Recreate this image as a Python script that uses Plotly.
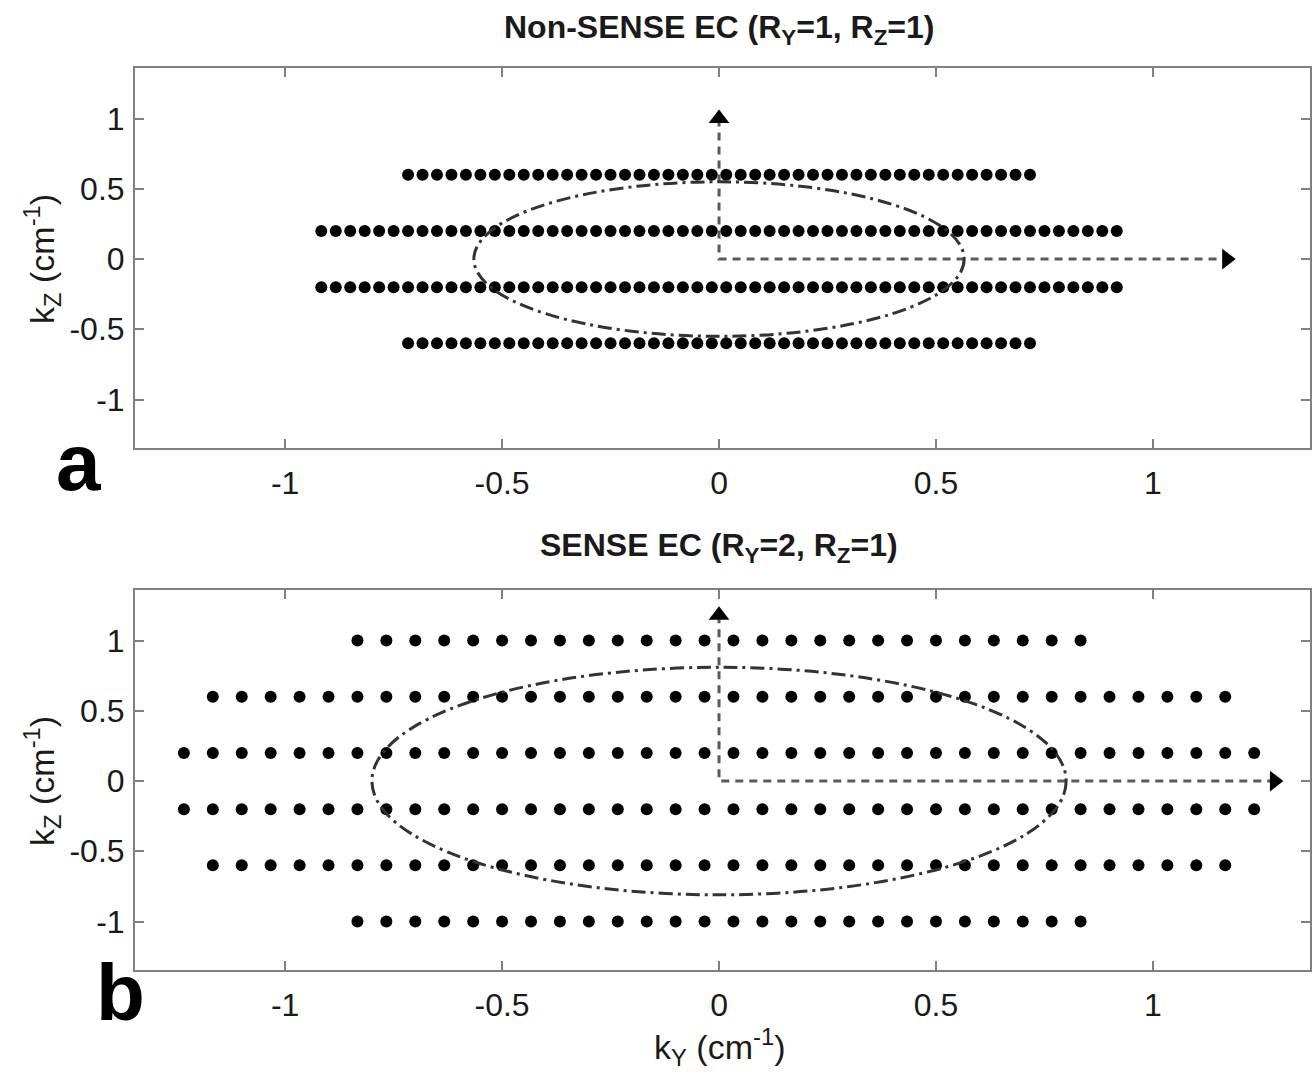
import plotly.graph_objects as go

# ---------------- data ----------------
# Panel a: non-SENSE elliptical-centric sampling (R_Y=1, R_Z=1)
a_row_kz = [0.6, 0.2, -0.2, -0.6]
a_row_count = [44, 56, 56, 44]
a_dky = 1 / 30

# Panel b: SENSE elliptical-centric sampling (R_Y=2, R_Z=1)
b_row_kz = [1.0, 0.6, 0.2, -0.2, -0.6, -1.0]
b_row_count = [26, 36, 38, 38, 36, 26]
b_dky = 1 / 15

# ellipse semi-axes (ky, kz)
a_ellipse = [0.565, 0.55]
b_ellipse = [0.80, 0.81]

# arrow tips (ky end, kz end)
a_arrow = [1.17, 1.0]
b_arrow = [1.28, 1.18]

tick_vals = [-1, -0.5, 0, 0.5, 1]
tick_text = ["-1", "-0.5", "0", "0.5", "1"]

titles = ["<b>Non-SENSE EC (R<sub>Y</sub>=1, R<sub>Z</sub>=1)</b>",
          "<b>SENSE EC (R<sub>Y</sub>=2, R<sub>Z</sub>=1)</b>"]
panel_letters = ["a", "b"]


def grid(rows, counts, d):
    xs, ys = [], []
    for kz, n in zip(rows, counts):
        for k in range(n):
            xs.append((k - n / 2 + 0.5) * d)
            ys.append(kz)
    return xs, ys


FONT = "Liberation Sans, Arial, sans-serif"
W, H = 1315, 1084

fig = go.Figure()

panels = [
    (a_row_kz, a_row_count, a_dky, a_ellipse, a_arrow, "x", "y", 12),
    (b_row_kz, b_row_count, b_dky, b_ellipse, b_arrow, "x2", "y2", 12),
]

shapes = []
for rows, counts, d, ell, arr, xa, ya, msize in panels:
    xs, ys = grid(rows, counts, d)
    fig.add_trace(go.Scatter(x=xs, y=ys, mode="markers", xaxis=xa, yaxis=ya,
                             marker=dict(size=msize, color="black"),
                             showlegend=False, hoverinfo="skip"))
    # dashed axes arrows
    fig.add_trace(go.Scatter(x=[0, 0, arr[0]], y=[arr[1], 0, 0], mode="lines",
                             xaxis=xa, yaxis=ya,
                             line=dict(color="#5a5a5a", width=3, dash="8px,6px"),
                             showlegend=False, hoverinfo="skip"))
    fig.add_trace(go.Scatter(x=[0, arr[0]], y=[arr[1], 0], mode="markers",
                             xaxis=xa, yaxis=ya,
                             marker=dict(symbol=["triangle-up", "triangle-right"],
                                         size=18, color="black"),
                             showlegend=False, hoverinfo="skip"))
    shapes.append(dict(type="circle", xref=xa, yref=ya,
                       x0=-ell[0], x1=ell[0], y0=-ell[1], y1=ell[1],
                       line=dict(color="#333333", width=3,
                                 dash="14px,5px,3px,5px")))

x_dom = [135 / W, 1310 / W]
y_dom_a = [(H - 448) / H, (H - 68) / H]
y_dom_b = [(H - 970) / H, (H - 590) / H]

axis_common = dict(showline=True, mirror="allticks", linecolor="#808080",
                   linewidth=2, ticks="inside", ticklen=9, tickwidth=2,
                   tickcolor="#808080", showgrid=False, zeroline=False,
                   tickvals=tick_vals, ticktext=tick_text,
                   tickfont=dict(family=FONT, size=32, color="#1a1a1a"))

fig.update_layout(
    width=W, height=H,
    margin=dict(l=0, r=0, t=0, b=0),
    paper_bgcolor="white", plot_bgcolor="white",
    shapes=shapes,
    xaxis=dict(domain=x_dom, range=[-1.346, 1.362], anchor="y",
               ticklabelstandoff=6, **axis_common),
    yaxis=dict(domain=y_dom_a, range=[-1.345, 1.36], anchor="x",
               ticklabelstandoff=2, **axis_common),
    xaxis2=dict(domain=x_dom, range=[-1.346, 1.362], anchor="y2",
                ticklabelstandoff=6, **axis_common),
    yaxis2=dict(domain=y_dom_b, range=[-1.345, 1.36], anchor="x2",
                ticklabelstandoff=2, **axis_common),
)

ann = []
ann.append(dict(text=titles[0], x=719 / W, y=1 - 30 / H, xref="paper", yref="paper",
                showarrow=False, font=dict(family=FONT, size=32, color="#1a1a1a"),
                xanchor="center", yanchor="middle"))
ann.append(dict(text=titles[1], x=719 / W, y=1 - 547 / H, xref="paper", yref="paper",
                showarrow=False, font=dict(family=FONT, size=32, color="#1a1a1a"),
                xanchor="center", yanchor="middle"))
for yc in [259, 781]:
    ann.append(dict(text="k<sub>Z</sub> (cm<sup>-1</sup>)", x=42 / W, y=1 - yc / H,
                    xref="paper", yref="paper", textangle=-90, showarrow=False,
                    font=dict(family=FONT, size=34, color="#1a1a1a"),
                    xanchor="center", yanchor="middle"))
ann.append(dict(text="k<sub>Y</sub> (cm<sup>-1</sup>)", x=719 / W, y=1 - 1047 / H,
                xref="paper", yref="paper", showarrow=False,
                font=dict(family=FONT, size=34, color="#1a1a1a"),
                xanchor="center", yanchor="middle"))
ann.append(dict(text="<b>" + panel_letters[0] + "</b>", x=78 / W, y=1 - 462 / H,
                xref="paper", yref="paper", showarrow=False,
                font=dict(family=FONT, size=80, color="black"),
                xanchor="center", yanchor="middle"))
ann.append(dict(text="<b>" + panel_letters[1] + "</b>", x=120 / W, y=1 - 992 / H,
                xref="paper", yref="paper", showarrow=False,
                font=dict(family=FONT, size=80, color="black"),
                xanchor="center", yanchor="middle"))
fig.update_layout(annotations=ann)

fig.write_html("out.html", config={"displayModeBar": False},
               post_script="document.body.style.margin='0';")
